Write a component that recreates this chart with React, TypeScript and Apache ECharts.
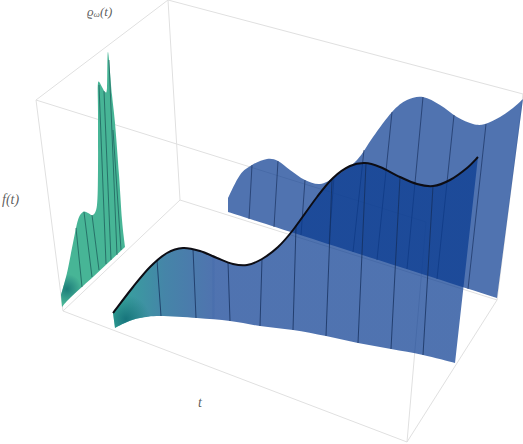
import React, { useEffect, useRef } from "react";
import * as echarts from "echarts";

type P = [number, number];

// Box edges of the 3D frame, in the plot's projected coordinates
const boxEdges: [P, P][] = [
  [[36, 100], [168, 0]],
  [[168, 0], [523, 94]],
  [[36, 100], [426, 222]],
  [[36, 100], [63, 311]],
  [[168, 0], [180, 200]],
  [[63, 311], [180, 200]],
  [[180, 200], [497, 300]],
  [[63, 311], [407, 442]],
  [[407, 442], [497, 300]],
  [[407, 442], [426, 222]],
  [[523, 94], [497, 300]],
];

// Projected f(t) curve and wall of the front surface
const frontCurve: P[] = [
  [113, 313], [133, 287], [150, 267], [167, 253], [183, 248], [200, 251], [217, 258], [233, 264],
  [247, 265], [262, 259], [278, 247], [293, 230], [317, 197], [333, 178], [350, 166], [365, 163],
  [380, 167], [400, 177], [417, 184], [433, 186], [450, 180], [467, 168], [478, 157],
];
const frontBase: P[] = [
  [455, 363], [423, 355], [391, 349], [358, 343], [326, 336], [293, 330], [260, 326], [230, 321],
  [197, 318], [160, 316], [140, 318], [127, 322], [115, 328],
];
const frontRibs: [P, P][] = [
  [[157, 260], [161, 316]],
  [[193, 249], [196, 318]],
  [[228, 262], [230, 321]],
  [[262, 259], [260, 326]],
  [[296, 226], [293, 330]],
  [[332, 179], [326, 336]],
  [[366, 163], [358, 343]],
  [[400, 177], [391, 349]],
  [[433, 186], [423, 355]],
];

// Projected curve and wall of the rear surface
const rearCurve: P[] = [
  [228, 198], [240, 175], [252, 165], [267, 159], [278, 161], [290, 170], [305, 180], [320, 184],
  [335, 177], [357, 160], [373, 137], [392, 112], [407, 100], [423, 97], [440, 105], [457, 117],
  [473, 124], [485, 124], [500, 117], [513, 108], [523, 99],
];
const rearBase: P[] = [[497, 298], [228, 212]];
const rearRibs: [P, P][] = [
  [[252, 165], [249, 219]],
  [[278, 161], [274, 227]],
  [[305, 180], [301, 235]],
  [[334, 177], [329, 244]],
  [[364, 150], [353, 252]],
  [[392, 112], [377, 260]],
  [[423, 97], [407, 269]],
  [[454, 115], [437, 279]],
  [[486, 124], [468, 289]],
];

// Projected density on the left wall
const densityCurve: P[] = [
  [61, 295], [67, 273], [73, 243], [78, 220], [83, 212], [88, 213], [93, 215], [97, 205], [98, 170],
  [98, 113], [98, 83], [102, 87], [105, 92], [107, 88], [108, 52], [112, 95], [115, 123], [119, 175],
  [122, 220], [125, 247],
];
const densityBase: P[] = [[93, 277], [70, 298], [62, 307]];
const densityRibs: [P, P][] = [
  [[76, 228], [82, 287]],
  [[84, 212], [92, 277]],
  [[92, 215], [99, 270]],
  [[99, 85], [106, 264]],
  [[104, 91], [111, 260]],
  [[109, 60], [117, 255]],
  [[113, 130], [121, 250]],
];

// Spots where the surfaces shade dark
const frontSpot: [number, number, number] = [126, 319, 24];
const densitySpot: [number, number, number] = [67, 289, 15];

// Axis titles
const axisTitles: { pos: P; text: string }[] = [
  { pos: [87, 11], text: "{l|ϱ}{s|ω}{l|(t)}" },
  { pos: [2, 199], text: "{m|f(t)}" },
  { pos: [198, 402], text: "{m|t}" },
];

const spline = (pts: number[][], move: boolean) => {
  let d = move ? `M${pts[0][0]} ${pts[0][1]}` : `L${pts[0][0]} ${pts[0][1]}`;
  for (let i = 0; i < pts.length - 1; i++) {
    const p0 = pts[Math.max(i - 1, 0)];
    const p1 = pts[i];
    const p2 = pts[i + 1];
    const p3 = pts[Math.min(i + 2, pts.length - 1)];
    d += `C${p1[0] + (p2[0] - p0[0]) / 6} ${p1[1] + (p2[1] - p0[1]) / 6} ${p2[0] - (p3[0] - p1[0]) / 6} ${p2[1] - (p3[1] - p1[1]) / 6} ${p2[0]} ${p2[1]}`;
  }
  return d;
};

const WALL = "rgba(8,58,144,0.71)";

const wall = (
  name: string,
  curve: P[],
  base: P[],
  fill: any,
  z: number,
  spot?: [number, number, number],
  spotColor?: string
) => ({
  name,
  type: "custom",
  coordinateSystem: "cartesian2d",
  silent: true,
  z,
  data: [0],
  renderItem: (_: any, api: any) => {
    const c = curve.map((p) => api.coord(p));
    const b = base.map((p) => api.coord(p));
    const d = spline(c, true) + spline(b, false) + "Z";
    const children: any[] = [{ type: "path", shape: { pathData: d }, style: { fill } }];
    if (spot) {
      const s = api.coord([spot[0], spot[1]]);
      children.push({
        type: "path",
        shape: { pathData: d },
        style: {
          fill: new echarts.graphic.RadialGradient(
            s[0],
            s[1],
            spot[2],
            [
              { offset: 0, color: spotColor },
              { offset: 1, color: "rgba(30,120,125,0)" },
            ],
            true
          ),
        },
      });
    }
    return { type: "group", children };
  },
});

const ribs = (name: string, segs: [P, P][], color: string, z: number) => ({
  name,
  type: "custom",
  coordinateSystem: "cartesian2d",
  silent: true,
  z,
  data: segs.map((_, i) => i),
  renderItem: (params: any, api: any) => {
    const [a, b] = segs[params.dataIndex];
    const p = api.coord(a);
    const q = api.coord(b);
    return {
      type: "line",
      shape: { x1: p[0], y1: p[1], x2: q[0], y2: q[1] },
      style: { stroke: color, lineWidth: 1, fill: "none" },
    };
  },
});

export default function App() {
  const ref = useRef<HTMLDivElement>(null);
  useEffect(() => {
    const chart = echarts.init(ref.current!, undefined, { renderer: "svg" });
    const frontFill = new echarts.graphic.LinearGradient(
      0,
      0,
      1,
      0,
      [
        { offset: 0, color: "#35b09a" },
        { offset: 0.05, color: "#3a9ba0" },
        { offset: 0.14, color: "#4585a8" },
        { offset: 0.27, color: "#4f74af" },
        { offset: 0.28, color: WALL },
        { offset: 1, color: WALL },
      ]
    );
    const rich = {
      l: { fontFamily: "Liberation Serif", fontStyle: "italic", fontSize: 13, color: "#333333" },
      m: { fontFamily: "Liberation Serif", fontStyle: "italic", fontSize: 14, color: "#333333" },
      s: { fontFamily: "Liberation Serif", fontStyle: "italic", fontSize: 9, color: "#333333", verticalAlign: "bottom", padding: [5, 0, 0, 0] },
    };
    chart.setOption({
      animation: false,
      backgroundColor: "#ffffff",
      grid: { left: 0, right: 0, top: 0, bottom: 0 },
      xAxis: { type: "value", min: 0, max: 523, show: false },
      yAxis: { type: "value", min: 0, max: 444, inverse: true, show: false },
      series: [
        ribs("Box", boxEdges, "#e0e0e0", 1),
        wall("Rear surface", rearCurve, rearBase, WALL, 2),
        ribs("Rear ribs", rearRibs, "rgba(25,50,95,0.7)", 3),
        wall("Density", densityCurve, densityBase, "#47b596", 4, densitySpot, "#1a7d78"),
        ribs("Density ribs", densityRibs, "rgba(25,85,85,0.7)", 5),
        wall("Front surface", frontCurve, frontBase, frontFill, 6, frontSpot, "#17757c"),
        ribs("Front ribs", frontRibs, "rgba(20,45,90,0.75)", 7),
        {
          name: "f(t)",
          type: "custom",
          coordinateSystem: "cartesian2d",
          silent: true,
          z: 8,
          data: [0],
          renderItem: (_: any, api: any) => ({
            type: "path",
            shape: { pathData: spline(frontCurve.map((p) => api.coord(p)), true) },
            style: { fill: "none", stroke: "#0d0d14", lineWidth: 2 },
          }),
        },
        {
          name: "Titles",
          type: "scatter",
          symbolSize: 0,
          silent: true,
          z: 9,
          data: axisTitles.map((t) => ({ value: t.pos, text: t.text })),
          label: {
            show: true,
            position: "right",
            distance: 0,
            formatter: (p: any) => p.data.text,
            rich,
          },
        },
      ],
    });
    return () => chart.dispose();
  }, []);
  return (
    <div
      ref={ref}
      style={{ position: "absolute", left: 0, top: 0, width: 523, height: 444 }}
    />
  );
}
